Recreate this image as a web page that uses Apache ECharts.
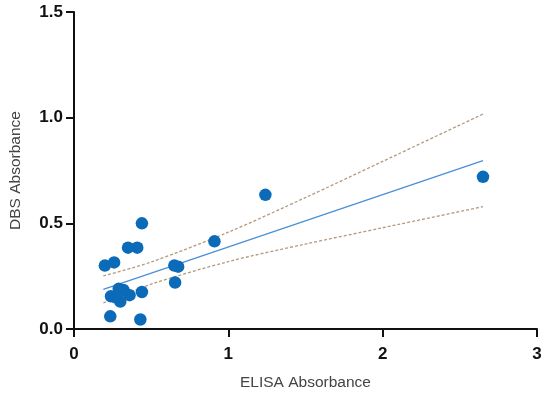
<!DOCTYPE html>
<html>
<head>
<meta charset="utf-8">
<script src="https://cdn.jsdelivr.net/npm/echarts@6/dist/echarts.min.js"></script>
<style>html,body{margin:0;padding:0;background:#fff}#c{width:550px;height:396px}</style>
</head>
<body>
<div id="c"></div>
<script>
const elisa = [0.20, 0.26, 0.35, 0.41, 0.44, 0.24, 0.29, 0.32, 0.30, 0.36, 0.44, 0.235, 0.43, 0.65, 0.675, 0.655, 0.91, 1.24, 2.65, 0.27];
const dbs   = [0.30, 0.315, 0.385, 0.385, 0.50, 0.155, 0.19, 0.185, 0.13, 0.16, 0.175, 0.06, 0.045, 0.30, 0.295, 0.22, 0.415, 0.635, 0.72, 0.15];
const fitX = [0.19, 2.65];
const fitY = [0.187, 0.797];
const ciX = [0.19, 0.5, 1.0, 1.5, 2.0, 2.65];
const ciUpper = [0.251, 0.317, 0.458, 0.622, 0.793, 1.017];
const ciLower = [0.123, 0.212, 0.319, 0.402, 0.479, 0.579];
const yTicks = ['0.0', '0.5', '1.0', '1.5'];

const zip = (a, b) => a.map((v, i) => [v, b[i]]);
const chart = echarts.init(document.getElementById('c'));
const axisCommon = {
  axisLine: {show: true, lineStyle: {color: '#111', width: 2}},
  axisTick: {show: true, length: 8, lineStyle: {color: '#111', width: 2}},
  splitLine: {show: false},
  nameLocation: 'middle',
  nameTextStyle: {fontFamily: 'Liberation Sans', fontSize: 15.5, color: '#444'}
};
chart.setOption({
  animation: false,
  grid: {left: 73, right: 13, top: 12, bottom: 66},
  xAxis: Object.assign({}, axisCommon, {
    type: 'value', min: 0, max: 3, interval: 1,
    name: 'ELISA Absorbance', nameGap: 46,
    axisLabel: {margin: 17, fontFamily: 'Liberation Sans', fontWeight: 'bold', fontSize: 17, color: '#111'}
  }),
  yAxis: Object.assign({}, axisCommon, {
    type: 'value', min: 0, max: 1.5, interval: 0.5,
    name: 'DBS Absorbance', nameGap: 50,
    axisLabel: {margin: 11, fontFamily: 'Liberation Sans', fontWeight: 'bold', fontSize: 17, color: '#111',
      formatter: (v) => yTicks[Math.round(v / 0.5)]}
  }),
  series: [
    {type: 'line', data: zip(ciX, ciUpper), smooth: 0.3, showSymbol: false, z: 1,
     lineStyle: {color: '#b39a7c', width: 1.3, type: [3, 2]}},
    {type: 'line', data: zip(ciX, ciLower), smooth: 0.3, showSymbol: false, z: 1,
     lineStyle: {color: '#b39a7c', width: 1.3, type: [3, 2]}},
    {type: 'line', data: zip(fitX, fitY), showSymbol: false, z: 2,
     lineStyle: {color: '#4a8fd6', width: 1.3}},
    {type: 'scatter', data: zip(elisa, dbs), symbolSize: 12.5, z: 3,
     itemStyle: {color: '#0b6bb8', opacity: 1}}
  ]
});
</script>
</body>
</html>
